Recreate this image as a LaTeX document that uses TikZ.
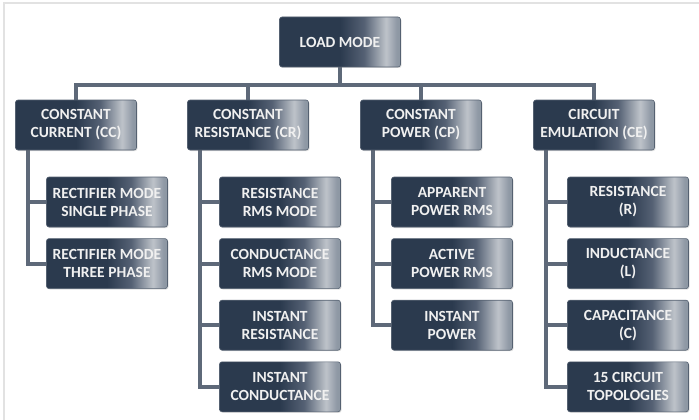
\documentclass[tikz,border=0pt]{standalone}
\usepackage{fontspec}
\setmainfont{Carlito}
\usepackage{tikz}
\usetikzlibrary{backgrounds}
\usetikzlibrary{positioning, calc, shadows}
\usepackage{xcolor}
\definecolor{boxdark}{HTML}{2B3A4E}
\definecolor{boxmid}{HTML}{556174}
\definecolor{boxlight}{HTML}{BEC3CA}
\definecolor{boxedge}{HTML}{8E98A4}
\definecolor{linkgray}{HTML}{5E6979}
\definecolor{framegray}{HTML}{E2E2E2}
\pgfdeclarehorizontalshading{boxshade}{100bp}{color(0bp)=(boxdark); color(25bp)=(boxdark); color(50bp)=(boxdark); color(60bp)=(boxmid); color(69bp)=(boxlight); color(73.5bp)=(boxedge); color(100bp)=(boxedge)}
\tikzset{modebox/.style={rectangle, rounded corners=2.5pt, shading=boxshade, draw=boxdark!80!white, line width=0.6pt,
    minimum width=121pt, minimum height=50pt, inner sep=0pt, align=center, text=white!94!black,
    font=\fontsize{15.5}{18}\selectfont\bfseries,
    drop shadow={opacity=0.25, shadow xshift=1pt, shadow yshift=-1pt}}}
\tikzset{link/.style={draw=linkgray, line width=4pt, line join=miter}}

\begin{document}
\begin{tikzpicture}[x=1pt, y=-1pt]
      \useasboundingbox (0,0) rectangle (699,420);
      \draw[framegray, line width=2pt] (4,420) -- (4,3) -- (699,3);

      \node[modebox] (lm) at (340,42) {LOAD MODE};
      \coordinate (bus) at (340,85);

      \node[modebox] (cc) at (76,125) {CONSTANT\\CURRENT (CC)};
      \node[modebox] (cr) at (248,125) {CONSTANT\\RESISTANCE (CR)};
      \node[modebox] (cp) at (421,125) {CONSTANT\\POWER (CP)};
      \node[modebox] (ce) at (594,125) {CIRCUIT\\EMULATION (CE)};

      % sub modes
      \node[modebox] (cc1) at ($(cc)+(31,77)$) {RECTIFIER MODE\\SINGLE PHASE};
      \node[modebox] (cc2) [below=11pt of cc1] {RECTIFIER MODE\\THREE PHASE};

      \node[modebox] (cr1) at ($(cr)+(32,77)$) {RESISTANCE\\RMS MODE};
      \node[modebox] (cr2) [below=11pt of cr1] {CONDUCTANCE\\RMS MODE};
      \node[modebox] (cr3) [below=11pt of cr2] {INSTANT\\RESISTANCE};
      \node[modebox] (cr4) [below=11pt of cr3] {INSTANT\\CONDUCTANCE};

      \node[modebox] (cp1) at ($(cp)+(31,77)$) {APPARENT\\POWER RMS};
      \node[modebox] (cp2) [below=11pt of cp1] {ACTIVE\\POWER RMS};
      \node[modebox] (cp3) [below=11pt of cp2] {INSTANT\\POWER};

      \node[modebox] (ce1) at ($(ce)+(34,77)$) {RESISTANCE\\(R)};
      \node[modebox] (ce2) [below=11pt of ce1] {INDUCTANCE\\(L)};
      \node[modebox] (ce3) [below=11pt of ce2] {CAPACITANCE\\(C)};
      \node[modebox] (ce4) [below=11pt of ce3] {15 CIRCUIT\\TOPOLOGIES};

      \begin{scope}[on background layer]
      \draw[link] (lm.south) -- (bus);
      \foreach \m in {cc, cr, cp, ce}
        \draw[link] (\m.north) |- (bus);
      \foreach \m/\n in {cc/cc1, cc/cc2, cr/cr1, cr/cr2, cr/cr3, cr/cr4, cp/cp1, cp/cp2, cp/cp3, ce/ce1, ce/ce2, ce/ce3, ce/ce4}
        \draw[link] ([xshift=13pt]\m.south west) |- (\n.west);
      \end{scope}
    \end{tikzpicture}
\end{document}
